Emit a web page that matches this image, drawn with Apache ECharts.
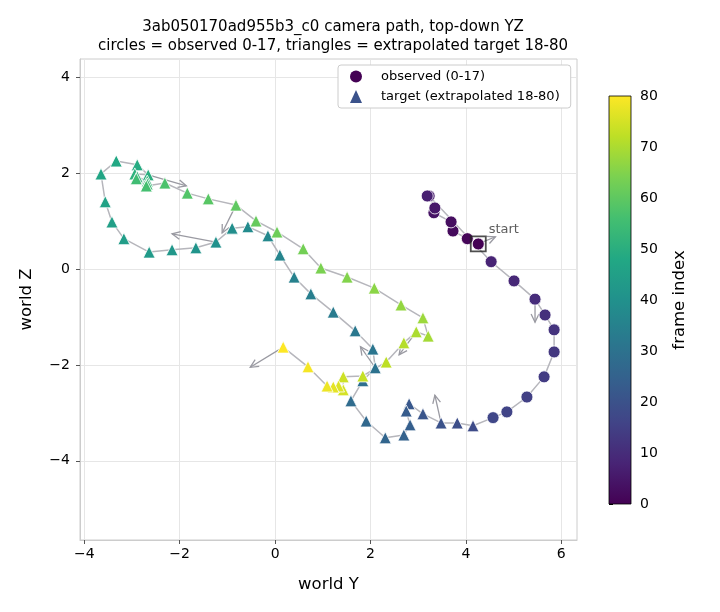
<!DOCTYPE html>
<html lang="en">
<head>
  <meta charset="utf-8">
  <title>camera path</title>
  <script src="https://cdn.jsdelivr.net/npm/echarts@6/dist/echarts.min.js"></script>
  <style>
    html, body { margin: 0; padding: 0; background: #fff; }
    #chart { width: 720px; height: 612px; }
  </style>
</head>
<body>
  <div id="chart"></div>
  <script>
    // observed frames 0-17 (world Y, world Z)
    var obsY = [4.26, 4.03, 3.73, 3.69, 3.33, 3.35, 3.23, 3.19, 4.53, 5.01, 5.45, 5.66, 5.85, 5.85, 5.64, 5.28, 4.86, 4.57];
    var obsZ = [0.52, 0.63, 0.79, 0.98, 1.17, 1.27, 1.52, 1.52, 0.15, -0.25, -0.63, -0.96, -1.27, -1.73, -2.25, -2.67, -2.98, -3.10];

    // extrapolated target frames 18-80
    var tgtY = [4.15, 3.82, 3.48, 3.10, 2.81, 2.75, 2.83, 2.70, 2.31, 1.91,
                1.59, 1.84, 2.10, 2.05, 1.68, 1.22, 0.75, 0.40, 0.10, -0.15,
                -0.57, -0.90, -1.24, -1.66, -2.16, -2.64, -3.17, -3.42, -3.56, -3.65,
                -3.33, -2.89, -2.66, -2.94, -2.89, -2.68, -2.68, -2.91, -2.70, -2.31,
                -1.84, -1.40, -0.82, -0.40, 0.04, 0.59, 0.96, 1.51, 2.08, 2.64,
                3.10, 3.21, 2.96, 2.70, 2.33, 1.84, 1.43, 1.43, 1.33, 1.22,
                1.09, 0.69, 0.17];
    var tgtZ = [-3.27, -3.21, -3.21, -3.02, -2.81, -2.96, -3.25, -3.46, -3.52, -3.17,
                -2.75, -2.33, -2.06, -1.67, -1.29, -0.90, -0.52, -0.17, 0.29, 0.69,
                0.88, 0.85, 0.56, 0.44, 0.40, 0.35, 0.63, 0.98, 1.40, 1.98,
                2.25, 2.17, 1.96, 1.98, 1.92, 1.83, 1.77, 1.88, 1.73, 1.79,
                1.58, 1.46, 1.33, 1.00, 0.77, 0.42, 0.02, -0.17, -0.40, -0.75,
                -1.02, -1.40, -1.31, -1.54, -1.94, -2.23, -2.25, -2.52, -2.44, -2.46,
                -2.44, -2.04, -1.63];

    // camera heading arrows every 10 frames
    var arrowFrames = [0, 10, 20, 30, 40, 50, 60, 70, 80];
    var arrowDY = [0.36, 0.00, -0.13, -0.31, -0.92, 0.80, -0.29, -0.36, -0.69];
    var arrowDZ = [0.15, -0.48, 0.58, 0.44, 0.17, -0.23, -0.58, -0.48, -0.42];

    var xTicks = [-4, -2, 0, 2, 4, 6];
    var yTicks = [-4, -2, 0, 2, 4];
    var cbarTicks = [0, 10, 20, 30, 40, 50, 60, 70, 80];
    var viridis = ['#440154', '#482475', '#414487', '#355f8d', '#2a788e', '#21918c',
                   '#22a884', '#44bf70', '#7ad151', '#bddf26', '#fde725'];

    var allY = obsY.concat(tgtY);
    var allZ = obsZ.concat(tgtZ);

    var obsData = obsY.map(function (y, i) { return [y, obsZ[i], i]; });
    var tgtData = tgtY.map(function (y, i) { return [y, tgtZ[i], i + obsY.length]; });
    var pathData = allY.map(function (y, i) { return [y, allZ[i]]; });
    var arrowData = arrowFrames.map(function (f, i) {
      return [allY[f], allZ[f], arrowDY[i], arrowDZ[i]];
    });

    function fmt(v) {
      return v < 0 ? '\u2212' + (-v) : String(v);
    }

    var font = 'DejaVu Sans';
    var chart = echarts.init(document.getElementById('chart'));

    var option = {
      animation: false,
      textStyle: { fontFamily: font },
      title: {
        text: '3ab050170ad955b3_c0 camera path, top-down YZ\ncircles = observed 0-17, triangles = extrapolated target 18-80',
        left: 328,
        top: 13,
        textAlign: 'center',
        textStyle: { fontFamily: font, fontSize: 15, fontWeight: 'normal', color: '#000', lineHeight: 19 }
      },
      legend: {
        left: 338,
        top: 65,
        orient: 'vertical',
        backgroundColor: '#fff',
        borderColor: '#cccccc',
        borderWidth: 1,
        borderRadius: 3,
        padding: [5, 11, 5, 12],
        itemGap: 7,
        itemWidth: 12,
        itemHeight: 13,
        textStyle: { fontFamily: font, fontSize: 13, color: '#000', padding: [0, 0, 0, 14] },
        data: [
          { name: 'observed (0-17)', icon: 'circle', itemStyle: { color: '#440154', borderWidth: 0 } },
          { name: 'target (extrapolated 18-80)', icon: 'triangle', itemStyle: { color: '#3b528b', borderWidth: 0 } }
        ]
      },
      visualMap: {
        show: false,
        type: 'continuous',
        min: 0,
        max: 80,
        dimension: 2,
        seriesIndex: [2, 3],
        inRange: { color: viridis }
      },
      grid: [
        { left: 80, right: 143, top: 59, bottom: 72, show: true, borderColor: '#cccccc', borderWidth: 1 },
        { left: 609, top: 96, width: 22, height: 408 }
      ],
      xAxis: [
        {
          type: 'value', gridIndex: 0, min: -4.09, max: 6.33,
          name: 'world Y', nameLocation: 'middle', nameGap: 36,
          nameTextStyle: { fontFamily: font, fontSize: 16.5, color: '#000' },
          axisLine: { show: true, onZero: false, lineStyle: { color: '#cccccc' } },
          axisTick: { show: true, length: 4, customValues: xTicks, lineStyle: { color: '#555' } },
          axisLabel: { fontFamily: font, fontSize: 14, color: '#000', margin: 7, customValues: xTicks, formatter: fmt },
          splitLine: { show: true, lineStyle: { color: '#e6e6e6' } }
        },
        { type: 'value', gridIndex: 1, min: 0, max: 1, show: false }
      ],
      yAxis: [
        {
          type: 'value', gridIndex: 0, min: -5.65, max: 4.375,
          name: 'world Z', nameLocation: 'middle', nameGap: 45,
          nameTextStyle: { fontFamily: font, fontSize: 16.5, color: '#000' },
          axisLine: { show: true, onZero: false, lineStyle: { color: '#cccccc' } },
          axisTick: { show: true, length: 4, customValues: yTicks, lineStyle: { color: '#555' } },
          axisLabel: { fontFamily: font, fontSize: 14, color: '#000', margin: 10, customValues: yTicks, formatter: fmt },
          splitLine: { show: true, lineStyle: { color: '#e6e6e6' } }
        },
        {
          type: 'value', gridIndex: 1, min: 0, max: 80, interval: 10, position: 'right',
          name: 'frame index', nameLocation: 'middle', nameGap: 40, nameRotate: 90,
          nameTextStyle: { fontFamily: font, fontSize: 16.5, color: '#000' },
          axisLine: { show: false },
          axisTick: { show: true, length: 4, lineStyle: { color: '#000' } },
          axisLabel: { fontFamily: font, fontSize: 14, color: '#000', margin: 9 },
          splitLine: { show: false },
          data: cbarTicks
        }
      ],
      series: [
        {
          type: 'line',
          xAxisIndex: 0, yAxisIndex: 0,
          data: pathData,
          showSymbol: false,
          symbol: 'none',
          lineStyle: { color: '#b6b6bc', width: 1.5 },
          z: 1,
          silent: true
        },
        {
          type: 'custom',
          xAxisIndex: 0, yAxisIndex: 0,
          data: arrowData,
          z: 2,
          silent: true,
          renderItem: function (params, api) {
            var p0 = api.coord([api.value(0), api.value(1)]);
            var p1 = api.coord([api.value(0) + api.value(2), api.value(1) + api.value(3)]);
            var ang = Math.atan2(p1[1] - p0[1], p1[0] - p0[0]);
            var hl = 9, ha = 0.45;
            var h1 = [p1[0] - hl * Math.cos(ang - ha), p1[1] - hl * Math.sin(ang - ha)];
            var h2 = [p1[0] - hl * Math.cos(ang + ha), p1[1] - hl * Math.sin(ang + ha)];
            var st = { stroke: '#9a9aa2', lineWidth: 1.3, fill: null };
            return {
              type: 'group',
              children: [
                { type: 'polyline', shape: { points: [p0, p1] }, style: st },
                { type: 'polyline', shape: { points: [h1, p1, h2] }, style: st }
              ]
            };
          }
        },
        {
          name: 'observed (0-17)',
          type: 'scatter',
          xAxisIndex: 0, yAxisIndex: 0,
          data: obsData,
          symbol: 'circle',
          symbolSize: 12,
          itemStyle: { borderColor: '#fff', borderWidth: 0.8, opacity: 1 },
          z: 3
        },
        {
          name: 'target (extrapolated 18-80)',
          type: 'scatter',
          xAxisIndex: 0, yAxisIndex: 0,
          data: tgtData,
          symbol: 'triangle',
          symbolSize: 12,
          itemStyle: { borderColor: '#fff', borderWidth: 0.8, opacity: 1 },
          z: 3
        },
        {
          type: 'scatter',
          xAxisIndex: 0, yAxisIndex: 0,
          data: [[obsY[0], obsZ[0]]],
          symbol: 'rect',
          symbolSize: 15,
          itemStyle: { color: 'rgba(0,0,0,0)', borderColor: '#222', borderWidth: 1.8 },
          label: {
            show: true, formatter: 'start', position: 'right', distance: 0,
            offset: [2, -14], fontFamily: font, fontSize: 13, color: '#333'
          },
          z: 4,
          silent: true
        },
        {
          type: 'custom',
          xAxisIndex: 1, yAxisIndex: 1,
          data: [[0, 0, 1, 80]],
          silent: true,
          renderItem: function (params, api) {
            var a = api.coord([api.value(0), api.value(1)]);
            var b = api.coord([api.value(2), api.value(3)]);
            var stops = viridis.map(function (c, i) { return { offset: i / (viridis.length - 1), color: c }; });
            return {
              type: 'rect',
              shape: { x: a[0], y: b[1], width: b[0] - a[0], height: a[1] - b[1] },
              style: {
                fill: new echarts.graphic.LinearGradient(0, 1, 0, 0, stops),
                stroke: '#000',
                lineWidth: 0.8
              }
            };
          }
        }
      ]
    };

    chart.setOption(option);
  </script>
</body>
</html>
